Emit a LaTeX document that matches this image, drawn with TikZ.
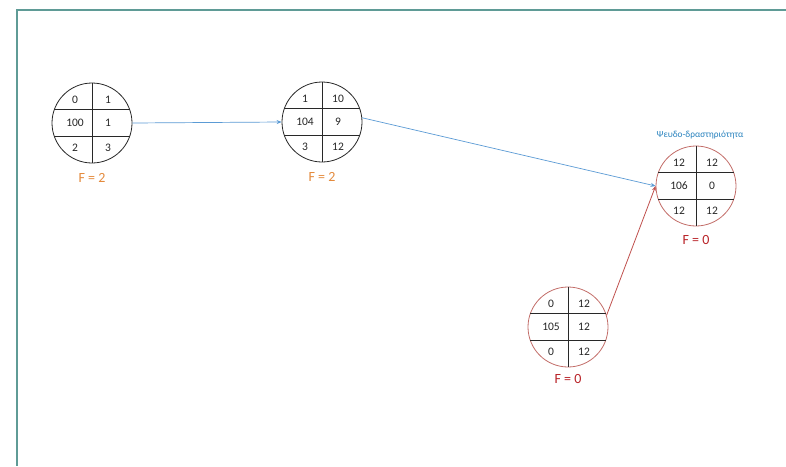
\documentclass[tikz,border=0pt]{standalone}
\usepackage{fontspec}
\setmainfont{Carlito}
\usetikzlibrary{arrows.meta}
\definecolor{framec}{RGB}{95,155,150}
\definecolor{bluel}{RGB}{91,155,213}
\definecolor{redl}{RGB}{192,80,77}
\definecolor{redcirc}{RGB}{195,110,105}
\definecolor{fora}{RGB}{228,138,60}
\definecolor{fred}{RGB}{185,35,40}
\definecolor{lblue}{RGB}{40,130,190}
\definecolor{inner}{RGB}{40,40,40}
\tikzset{
  evt/.style={circle,draw=#1,line width=0.8pt,minimum size=80pt,inner sep=0pt},
  cell/.style={font=\fontsize{11.5}{13}\selectfont,text=black!85,inner sep=0pt},
  flabel/.style={font=\fontsize{14}{16}\selectfont,text=#1,inner sep=0pt},
  divl/.style={draw=inner,line width=0.7pt},
  bluearrow/.style={draw=bluel,line width=0.7pt,-{Stealth[length=5pt,width=4pt]}},
  redarrow/.style={draw=redl,line width=0.8pt,-{Stealth[length=5pt,width=4pt]}},
}
\newcommand{\evtcells}[7]{%
  \draw[divl] (#1.north) -- (#1.south);
  \draw[divl] (#1.160) -- (#1.20);
  \draw[divl] (#1.200) -- (#1.340);
  \node[cell] (#1a) at ([shift={(-17,-23)}]#1.center) {#2};
  \node[cell] (#1b) at ([shift={(16,-23)}]#1.center) {#3};
  \node[cell] (#1c) at ([shift={(-17,0)}]#1.center) {#4};
  \node[cell] (#1d) at ([shift={(16,0)}]#1.center) {#5};
  \node[cell] (#1e) at ([shift={(-17,25)}]#1.center) {#6};
  \node[cell] (#1f) at ([shift={(16,25)}]#1.center) {#7};
}
\begin{document}
\begin{tikzpicture}[x=1pt,y=-1pt]
\fill[white] (0,0) rectangle (786,466);
\useasboundingbox (0,0) rectangle (786,466);
\draw[framec,line width=1.6pt] (786,10) -- (17,10) -- (17,466);

\node[evt=inner] (c1) at (92,123) {};
\node[evt=inner] (c2) at (322,122) {};
\node[evt=redcirc] (c3) at (696,186) {};
\node[evt=redcirc] (c4) at (568,327) {};

\evtcells{c1}{0}{1}{100}{1}{2}{3}
\evtcells{c2}{1}{10}{104}{9}{3}{12}
\evtcells{c3}{12}{12}{106}{0}{12}{12}
\evtcells{c4}{0}{12}{105}{12}{0}{12}

\node[flabel=fora] (f1) at (92,178) {F = 2};
\node[flabel=fora] (f2) at (322,177) {F = 2};
\node[flabel=fred] (f3) at (696,240) {F = 0};
\node[flabel=fred] (f4) at (568,379) {F = 0};

\node[font=\fontsize{9.3}{11}\selectfont,text=lblue,inner sep=0pt] (ps) at (700,135) {Ψευδο-δραστηριότητα};

\draw[bluearrow] (c1.east) -- (c2.west);
\draw[bluearrow] (c2.6) -- (c3.west);
\draw[redarrow] (c4.17) -- (c3.west);
\end{tikzpicture}
\end{document}
